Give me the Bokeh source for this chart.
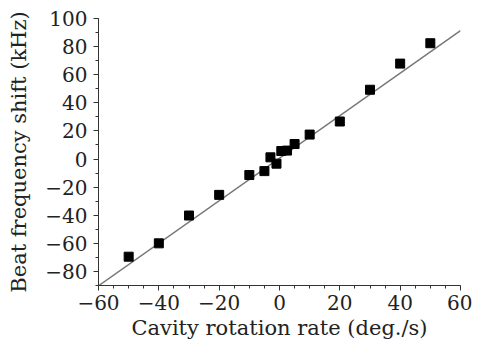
from bokeh.plotting import figure
from bokeh.models import Range1d, SingleIntervalTicker
from bokeh.embed import file_html
from bokeh.resources import INLINE

rate = [-50, -40, -30, -20, -10, -5, -3, -1, 0.6, 2.5, 5, 10, 20, 30, 40, 50]
shift = [-69.5, -60, -40.2, -25.5, -11.4, -8.6, 1.2, -3.3, 5.7, 6.0, 10.7, 17.4, 26.7, 49.3, 67.9, 82.4]
fit_x = [-60, 60]
fit_y = [-90.2, 91.4]

p = figure(width=472, height=343, output_backend="svg", toolbar_location=None,
           x_range=Range1d(-60, 60), y_range=Range1d(-90, 100),
           min_border_left=98, min_border_right=12, min_border_top=18, min_border_bottom=58)
p.outline_line_color = None
p.grid.visible = False
p.background_fill_color = "white"

p.line(fit_x, fit_y, line_color="#777777", line_width=1.5)
p.scatter(rate, shift, marker="square", size=9, fill_color="black", line_color="black")

font = "DejaVu Serif"
for ax in (p.xaxis[0], p.yaxis[0]):
    ax.axis_line_color = "#333333"
    ax.major_tick_line_color = "#333333"
    ax.minor_tick_line_color = "#333333"
    ax.major_tick_out = 5
    ax.major_tick_in = 0
    ax.minor_tick_out = 3
    ax.minor_tick_in = 0
    ax.major_label_text_font = font
    ax.major_label_text_font_size = "20px"
    ax.major_label_text_color = "#222222"
    ax.axis_label_text_font = font
    ax.axis_label_text_font_size = "21px"
    ax.axis_label_text_font_style = "normal"
    ax.axis_label_text_color = "#222222"

p.xaxis[0].ticker = SingleIntervalTicker(interval=20, num_minor_ticks=4)
p.yaxis[0].ticker = SingleIntervalTicker(interval=20, num_minor_ticks=2)
p.xaxis[0].axis_label = "Cavity rotation rate (deg./s)"
p.yaxis[0].axis_label = "Beat frequency shift (kHz)"
p.xaxis[0].axis_label_standoff = 3
p.yaxis[0].axis_label_standoff = 11
p.xaxis[0].major_label_standoff = 4
p.yaxis[0].major_label_standoff = 6

open("out.html", "w").write(file_html(p, INLINE))
